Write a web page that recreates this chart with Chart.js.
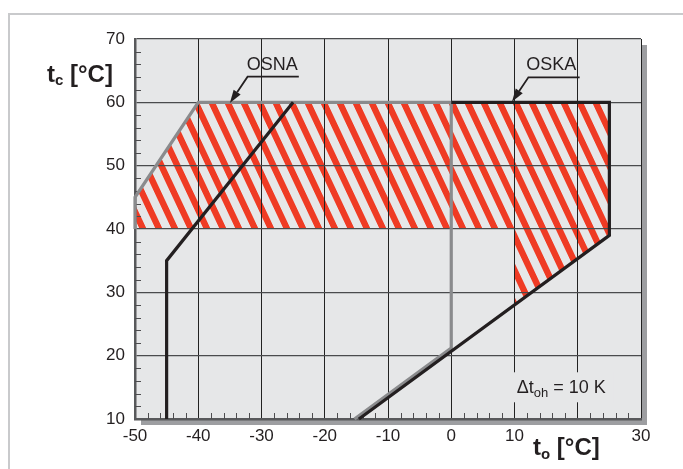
<!DOCTYPE html>
<html>
<head>
<meta charset="utf-8">
<script src="https://cdn.jsdelivr.net/npm/chart.js@4.4.1/dist/chart.umd.min.js"></script>
<style>
  html, body { margin: 0; background: #fff; }
  #wrap { position: relative; width: 683px; height: 469px; }
</style>
</head>
<body>
<div id="wrap"><canvas id="chart"></canvas></div>
<script>
// x = t_o (evaporating), y = t_c (condensing), both in °C
const xTicks = [-50, -40, -30, -20, -10, 0, 10, 20, 30];
const xTickLabels = ["-50", "-40", "-30", "-20", "-10", "0", "10", "", "30"];
const yTicks = [10, 20, 30, 40, 50, 60, 70];

// OSNA envelope (grey outline)
const osnaX = [-50, -50, -40, 0, 0, -15.3];
const osnaY = [40, 45, 60, 60, 21.2, 10];
// OSNA inner limit (black)
const osnaInnerX = [-45, -45, -25];
const osnaInnerY = [10, 35, 60];
// OSKA envelope (black outline)
const oskaX = [0, 25, 25, -14.6];
const oskaY = [60, 60, 39, 10];

// hatched application ranges
const osnaHatchX = [-50, -50, -40, 0, 0, -50];
const osnaHatchY = [40, 45, 60, 60, 40, 40];
const oskaHatchX = [0, 0, 25, 25, 10, 10, 0];
const oskaHatchY = [40, 60, 60, 39, 28, 40, 40];

// labels with leader arrows: text anchor, leader start, bend, arrow tip
const callouts = [
  { text: "OSNA", at: [-28.3, 65.1], from: [-24.1, 64.05], bend: [-32.2, 64.05], tip: [-35, 59.9] },
  { text: "OSKA", at: [15.8, 65.1], from: [20.3, 63.95], bend: [12.2, 63.95], tip: [9.6, 60.1] },
];
const noteAt = [10.37, 14.06];

const INK = "#231f20";
const PLOT_BG = "#e6e7e8";

const pts = (xs, ys) => xs.map((x, i) => ({ x, y: ys[i] }));

function makeHatch() {
  const tile = document.createElement("canvas");
  tile.width = 16;
  tile.height = 16;
  const t = tile.getContext("2d");
  t.fillStyle = "#ef3b24";
  t.fillRect(0, 0, 7, 16);
  const p = t.createPattern(tile, "repeat");
  p.setTransform(new DOMMatrix([1, 0, 0.47, 1, 0, 0]));
  return p;
}
const hatch = makeHatch();

function richText(ctx, x, y, parts) {
  for (const p of parts) {
    ctx.font = p.font;
    ctx.fillText(p.text, x, y + (p.dy || 0));
    x += ctx.measureText(p.text).width;
  }
  return x;
}

const decor = {
  id: "decor",
  beforeDraw(chart) {
    const { ctx, chartArea: a } = chart;
    ctx.save();
    // page frame
    ctx.strokeStyle = "#c9cacc";
    ctx.lineWidth = 2;
    ctx.beginPath();
    ctx.moveTo(9, chart.height);
    ctx.lineTo(9, 14);
    ctx.lineTo(chart.width, 14);
    ctx.stroke();
    // plot background + drop shadow, behind the hatch already drawn by filler
    ctx.globalCompositeOperation = "destination-over";
    ctx.fillStyle = PLOT_BG;
    ctx.fillRect(a.left, a.top, a.right - a.left, a.bottom - a.top);
    ctx.fillStyle = "#9d9ea1";
    ctx.fillRect(a.left + 6, a.top + 6, a.right - a.left, a.bottom - a.top);
    ctx.restore();
  },
  beforeDatasetsDraw(chart) {
    const { ctx, chartArea: a, scales } = chart;
    ctx.save();
    ctx.strokeStyle = "#4d4d4f";
    ctx.lineWidth = 1;
    ctx.beginPath();
    for (const t of scales.y.ticks) {
      if (yTicks.includes(t.value)) continue;
      const py = Math.round(scales.y.getPixelForValue(t.value)) + 0.5;
      ctx.moveTo(a.left, py);
      ctx.lineTo(a.left + 6, py);
    }
    for (const t of scales.x.ticks) {
      if (xTicks.includes(t.value)) continue;
      const px = Math.round(scales.x.getPixelForValue(t.value)) + 0.5;
      ctx.moveTo(px, a.bottom);
      ctx.lineTo(px, a.bottom - 6);
    }
    ctx.stroke();
    ctx.restore();
  },
  afterDraw(chart) {
    const { ctx, chartArea: a, scales } = chart;
    const X = v => scales.x.getPixelForValue(v);
    const Y = v => scales.y.getPixelForValue(v);
    ctx.save();
    ctx.fillStyle = INK;
    ctx.strokeStyle = INK;

    // callouts
    for (const c of callouts) {
      ctx.font = "18px 'Liberation Sans', Arial, sans-serif";
      ctx.textAlign = "center";
      ctx.textBaseline = "alphabetic";
      ctx.fillText(c.text, X(c.at[0]), Y(c.at[1]));
      const s = { x: X(c.from[0]), y: Y(c.from[1]) };
      const b = { x: X(c.bend[0]), y: Y(c.bend[1]) };
      const tip = { x: X(c.tip[0]), y: Y(c.tip[1]) };
      const dx = tip.x - b.x, dy = tip.y - b.y, len = Math.hypot(dx, dy);
      const ux = dx / len, uy = dy / len;
      const L = 13, W = 4.2;
      const bx = tip.x - ux * L, by = tip.y - uy * L;
      ctx.lineWidth = 1.8;
      ctx.beginPath();
      ctx.moveTo(s.x, s.y);
      ctx.lineTo(b.x, b.y);
      ctx.lineTo(bx, by);
      ctx.stroke();
      ctx.beginPath();
      ctx.moveTo(tip.x, tip.y);
      ctx.lineTo(bx - uy * W, by + ux * W);
      ctx.lineTo(bx + uy * W, by - ux * W);
      ctx.closePath();
      ctx.fill();
    }

    // superheat note, knocks out the grid behind it
    const nx = X(noteAt[0]), ny = Y(noteAt[1]);
    ctx.fillStyle = PLOT_BG;
    ctx.fillRect(nx - 7, ny - 21, 104, 30);
    ctx.fillStyle = INK;
    ctx.textAlign = "left";
    const reg = "'Liberation Sans', Arial, sans-serif";
    richText(ctx, nx, ny, [
      { text: "\u0394t", font: "18px " + reg },
      { text: "oh", font: "13px " + reg, dy: 4 },
      { text: " = 10 K", font: "18px " + reg },
    ]);

    // axis titles
    const big = "bold 24px 'Liberation Sans', Arial, sans-serif";
    const sub = "bold 15px 'Liberation Sans', Arial, sans-serif";
    richText(ctx, a.left - 88, a.top + 43, [
      { text: "t", font: big },
      { text: "c", font: sub, dy: 3 },
      { text: " [\u00b0C]", font: big },
    ]);
    richText(ctx, a.left + 398, a.bottom + 36, [
      { text: "t", font: big },
      { text: "o", font: sub, dy: 4 },
      { text: " [\u00b0C]", font: big },
    ]);
    ctx.restore();
  },
};

Chart.defaults.font.family = "'Liberation Sans', Arial, sans-serif";

const line = (xs, ys, color, width, order) => ({
  data: pts(xs, ys),
  showLine: true,
  borderColor: color,
  borderWidth: width,
  pointRadius: 0,
  borderJoinStyle: "miter",
  clip: false,
  fill: false,
  order,
});
const area = (xs, ys, order) => ({
  data: pts(xs, ys),
  showLine: true,
  borderWidth: 0,
  borderColor: "rgba(0,0,0,0)",
  pointRadius: 0,
  backgroundColor: hatch,
  fill: "shape",
  order,
});

new Chart(document.getElementById("chart"), {
  type: "scatter",
  data: {
    datasets: [
      line(osnaInnerX, osnaInnerY, INK, 3.2, 1),
      line(oskaX, oskaY, INK, 3.2, 2),
      line(osnaX, osnaY, "#8a8b8d", 3.2, 3),
      area(osnaHatchX, osnaHatchY, 10),
      area(oskaHatchX, oskaHatchY, 11),
    ],
  },
  options: {
    responsive: true,
    maintainAspectRatio: false,
    animation: false,
    events: [],
    layout: { padding: { left: 0, right: 42, top: 39, bottom: 0 } },
    plugins: {
      legend: { display: false },
      tooltip: { enabled: false },
      filler: { drawTime: "beforeDraw" },
    },
    scales: {
      x: {
        type: "linear",
        min: -50,
        max: 30,
        afterFit: s => { s.height = 50; },
        ticks: {
          stepSize: 2,
          autoSkip: false,
          maxRotation: 0,
          minRotation: 0,
          padding: 7,
          color: INK,
          font: { size: 17 },
          callback: v => {
            const i = xTicks.indexOf(v);
            return i >= 0 ? xTickLabels[i] : "";
          },
        },
        grid: {
          drawTicks: false,
          lineWidth: 1,
          color: c => (c.tick && xTicks.includes(c.tick.value) ? "#222222" : "rgba(0,0,0,0)"),
        },
        border: { color: "#58595b", width: 2.5 },
      },
      y: {
        type: "linear",
        min: 10,
        max: 70,
        afterFit: s => { s.width = 135; },
        ticks: {
          stepSize: 2,
          autoSkip: false,
          padding: 10,
          color: INK,
          font: { size: 17 },
          callback: v => (yTicks.includes(v) ? String(v) : ""),
        },
        grid: {
          drawTicks: false,
          lineWidth: 1.3,
          color: c => (c.tick && yTicks.includes(c.tick.value) ? "#4a4b4d" : "rgba(0,0,0,0)"),
        },
        border: { color: "#58595b", width: 2.5 },
      },
    },
  },
  plugins: [decor],
});
</script>
</body>
</html>
